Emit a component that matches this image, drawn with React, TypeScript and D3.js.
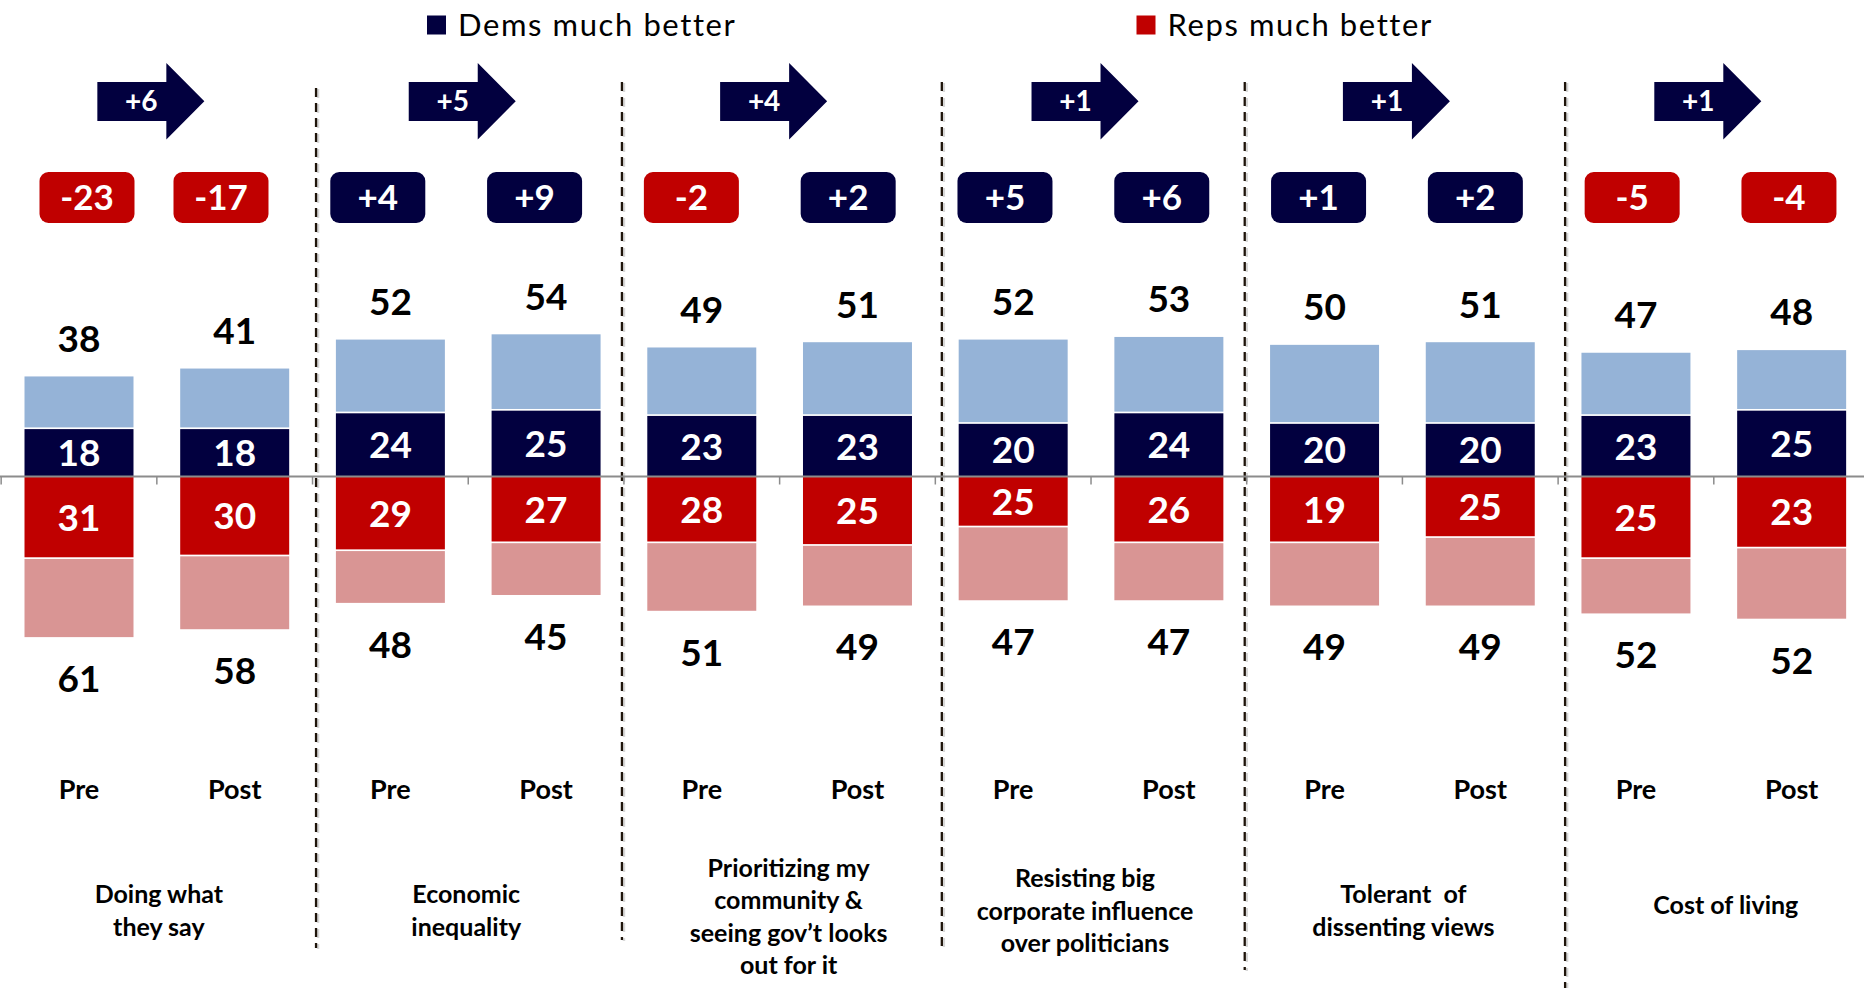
import React from "react";
import * as d3 from "d3";

// ---------- data ----------
const categoryLines: string[][] = [
  ["Doing what", "they say"],
  ["Economic", "inequality"],
  ["Prioritizing my", "community &", "seeing gov\u2019t looks", "out for it"],
  ["Resisting big", "corporate influence", "over politicians"],
  ["Tolerant  of", "dissenting views"],
  ["Cost of living"],
];
const periods = ["Pre", "Post"];

// per bar, order: group1 Pre, group1 Post, group2 Pre, ...
const demsMuch = [18, 18, 24, 25, 23, 23, 20, 24, 20, 20, 23, 25];
const demsTotal = [38, 41, 52, 54, 49, 51, 52, 53, 50, 51, 47, 48];
const repsMuchLabel = [31, 30, 29, 27, 28, 25, 25, 26, 19, 25, 25, 23];
const repsMuchBar = [31, 30, 28, 25, 25, 26, 19, 25, 25, 23, 31, 27];
const repsTotalLabel = [61, 58, 48, 45, 51, 49, 47, 47, 49, 49, 52, 52];
const repsTotalBar = [61, 58, 48, 45, 51, 49, 47, 47, 49, 49, 52, 54];
const netAdvantage = [-23, -17, 4, 9, -2, 2, 5, 6, 1, 2, -5, -4];
const shift = [6, 5, 4, 1, 1, 1];

const legendItems = ["Dems much better", "Reps much better"];

// ---------- style ----------
const W = 1864;
const H = 988;
const NAVY = "#02003F";
const RED = "#C00000";
const LIGHT_BLUE = "#95B3D7";
const PINK = "#D99594";
const AXIS = "#8C8C8C";
const FONT = "Lato, 'Open Sans', sans-serif";

const fmtSigned = (v: number) => (v > 0 ? `+${v}` : `${v}`);

export default function App() {
  const keys = categoryLines.flatMap((_, g) => periods.map((p) => `${g}-${p}`));

  const x = d3
    .scaleBand<string>()
    .domain(keys)
    .range([1.15, 1869.5])
    .paddingInner(0.3)
    .paddingOuter(0.15);
  const step = x.step();
  const bw = x.bandwidth();
  const x0 = 1.15;
  const boundary = (k: number) => x0 + k * step;
  const cx = (i: number) => (x(keys[i]) as number) + bw / 2;

  const y = d3.scaleLinear().domain([-100, 100]).range([476.5 + 263.3, 476.5 - 263.3]);
  const base = y(0);

  const gap = 1.7;
  const cap = 0.36; // half cap-height ratio for vertical centering

  const groupCenter = (g: number) => boundary(2 * g + 1);

  const dividerOffsets = [3.5, -2, 6.5, -2, 7];
  const dividerTops = [88, 82, 82, 82, 82];
  const dividerBottoms = [948, 940, 950, 970, 988];

  const labelDx = [2, -2, 9, -6, 1, 12];
  const labelCy = [910.5, 910.5, 916.6, 910.7, 910.5, 904.7];

  const badgeCx = (i: number) => (i === 0 ? cx(0) + 8 : cx(i) - 13.7 + (i - 1) * 1.1);

  const arrowW = 107;
  const arrowBody = 69;

  const bigSize = 37;

  return (
    <svg
      width={W}
      height={H}
      viewBox={`0 0 ${W} ${H}`}
      style={{ position: "absolute", left: 0, top: 0, background: "#fff" }}
      fontFamily={FONT}
    >
      {/* legend */}
      {legendItems.map((t, i) => {
        const lx = i === 0 ? 427 : 1136.5;
        return (
          <g key={t}>
            <rect x={lx} y={15.5} width={19} height={19} fill={i === 0 ? NAVY : RED} />
            <text
              x={lx + 31}
              y={25 + 31 * cap}
              fontSize={31}
              letterSpacing={1.6}
              fill="#000"
            >
              {t}
            </text>
          </g>
        );
      })}

      {/* dividers */}
      {dividerOffsets.map((off, k) => {
        const dx = boundary(2 * (k + 1)) + off;
        return (
          <g key={k}>
            <line
              x1={dx + 2}
              x2={dx + 2}
              y1={dividerTops[k] + 1}
              y2={dividerBottoms[k] + 1}
              stroke="#BDBDBD"
              strokeOpacity={0.6}
              strokeWidth={2.5}
              strokeDasharray="9 6"
            />
            <line
              x1={dx}
              x2={dx}
              y1={dividerTops[k]}
              y2={dividerBottoms[k]}
              stroke="#1E140A"
              strokeWidth={2.3}
              strokeDasharray="9 6"
            />
          </g>
        );
      })}

      {/* shift arrows */}
      {shift.map((v, g) => {
        const left = groupCenter(g) - 6 - arrowW / 2;
        const cy = 101.3;
        const pts = [
          [left, 82],
          [left + arrowBody, 82],
          [left + arrowBody, 63],
          [left + arrowW, cy],
          [left + arrowBody, 139.5],
          [left + arrowBody, 121],
          [left, 121],
        ];
        return (
          <g key={g}>
            <polygon points={pts.map((p) => p.join(",")).join(" ")} fill={NAVY} />
            <text
              x={left + 44}
              y={cy + 28 * cap}
              textAnchor="middle"
              fontSize={28}
              fontWeight={700}
              fill="#fff"
            >
              {fmtSigned(v)}
            </text>
          </g>
        );
      })}

      {/* net badges */}
      {netAdvantage.map((v, i) => {
        const bx = badgeCx(i);
        return (
          <g key={i}>
            <rect
              x={bx - 47.5}
              y={172}
              width={95}
              height={51}
              rx={9}
              fill={v >= 0 ? NAVY : RED}
            />
            <text
              x={bx}
              y={197.5 + 35 * cap}
              textAnchor="middle"
              fontSize={35}
              fontWeight={700}
              fill="#fff"
            >
              {fmtSigned(v)}
            </text>
          </g>
        );
      })}

      {/* bars */}
      {keys.map((k, i) => {
        const bx = x(k) as number;
        const yTop = y(demsTotal[i]);
        const yDark = y(demsMuch[i]);
        const yRed = y(-repsMuchBar[i]);
        const yBot = y(-repsTotalBar[i]);
        return (
          <g key={k}>
            <rect x={bx} y={yTop} width={bw} height={yDark - gap - yTop} fill={LIGHT_BLUE} />
            <rect x={bx} y={yDark} width={bw} height={base - yDark} fill={NAVY} />
            <rect x={bx} y={base} width={bw} height={yRed - gap / 2 - base} fill={RED} />
            <rect x={bx} y={yRed + gap / 2} width={bw} height={yBot - yRed - gap / 2} fill={PINK} />
          </g>
        );
      })}

      {/* axis */}
      <line x1={0} x2={W} y1={base} y2={base} stroke={AXIS} strokeWidth={2.2} />
      {d3.range(0, 13).map((k) => (
        <line
          key={k}
          x1={boundary(k)}
          x2={boundary(k)}
          y1={base}
          y2={base + 8}
          stroke={AXIS}
          strokeWidth={1.5}
        />
      ))}

      {/* value labels */}
      {keys.map((k, i) => {
        const c = cx(i);
        const yTop = y(demsTotal[i]);
        const yDark = y(demsMuch[i]);
        const yRed = y(-repsMuchBar[i]);
        const yBot = y(-repsTotalBar[i]);
        const off = bigSize * cap;
        return (
          <g key={k} textAnchor="middle" fontSize={bigSize} fontWeight={700}>
            <text x={c} y={yTop - 38 + off} fill="#000">
              {demsTotal[i]}
            </text>
            <text x={c} y={(yDark + base) / 2 + off} fill="#fff">
              {demsMuch[i]}
            </text>
            <text x={c} y={(base + yRed) / 2 + off} fill="#fff">
              {repsMuchLabel[i]}
            </text>
            <text x={c} y={yBot + 41.5 + off} fill="#000">
              {repsTotalLabel[i]}
            </text>
          </g>
        );
      })}

      {/* period labels */}
      {keys.map((k, i) => (
        <text
          key={k}
          x={cx(i)}
          y={790 + 26 * cap}
          textAnchor="middle"
          fontSize={27}
          fontWeight={700}
          fill="#000"
        >
          {periods[i % 2]}
        </text>
      ))}

      {/* category labels */}
      {categoryLines.map((lines, g) => {
        const lh = 32.5;
        const fs = 25;
        const startY = labelCy[g] - ((lines.length - 1) * lh) / 2;
        return (
          <text
            key={g}
            textAnchor="middle"
            fontSize={fs}
            fontWeight={700}
            fill="#000"
            style={{ whiteSpace: "pre" }}
          >
            {lines.map((ln, j) => (
              <tspan key={j} x={groupCenter(g) + labelDx[g]} y={startY + j * lh + fs * cap}>
                {ln}
              </tspan>
            ))}
          </text>
        );
      })}
    </svg>
  );
}
